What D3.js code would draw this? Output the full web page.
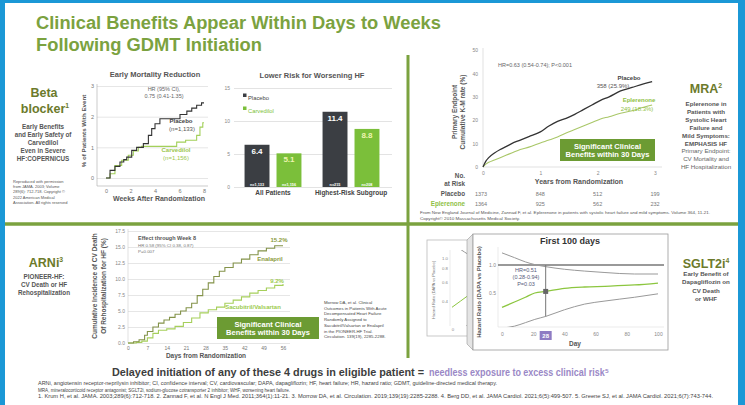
<!DOCTYPE html>
<html>
<head>
<meta charset="utf-8">
<script src="https://cdn.jsdelivr.net/npm/d3@7"></script>
<style>
  body { margin: 0; background: #fff; }
  svg { display: block; font-family: Arial, "Liberation Sans", sans-serif; }
</style>
</head>
<body>
<div id="chart"></div>
<script>
// ---- data ----

// COPERNICUS early mortality, [week, % with event]
const mortPlacebo = [[0,0],[0.33,0.25],[0.73,0.38],[1.14,0.52],[1.45,0.6],[1.69,0.68],[2.1,0.9],[2.5,1.0],[3.05,1.12],[3.46,1.39],[3.73,1.61],[4.0,1.77],[4.4,1.93],[6.04,2.07],[6.6,2.18],[7.0,2.28],[7.4,2.37],[7.8,2.45],[8,2.45]];
const mortCarvedilol = [[0,0],[0.33,0.14],[0.73,0.41],[1.28,0.58],[1.82,0.74],[2.23,0.88],[2.64,1.0],[2.9,1.03],[5.77,1.17],[6.5,1.23],[7.4,1.39],[7.67,1.66],[7.9,1.8],[8,1.8]];
const mortTicksX = [0, 2, 4, 6, 8];
const mortTicksY = [0, 1, 2, 3];

// worsening HF bars
const hfGroups = ["All Patients", "Highest-Risk Subgroup"];
const hfSeries = ["Placebo", "Carvedilol"];
const hfPlacebo = [6.4, 11.4];
const hfCarvedilol = [5.1, 8.8];
const hfPlaceboN = ["n=1,133", "n=215"];
const hfCarvedilolN = ["n=1,156", "n=208"];
const hfTicks = [0, 5, 10, 15];

// EMPHASIS-HF K-M curves
const mraYears = [0, .05, .1, .2, .3, .4, .5, .65, .8, 1.0, 1.15, 1.3, 1.45, 1.6, 1.75, 1.9, 2.05, 2.2, 2.4, 2.6, 2.8, 2.95];
const mraPlacebo = [0, 2.5, 4, 6, 7.5, 8.7, 10, 11.5, 13, 15, 17.5, 19.5, 20.8, 22.5, 24.5, 26.5, 28.5, 30, 32.5, 34, 35.5, 36.5];
const mraEplerenone = [0, 1.2, 2, 3, 4, 5, 6, 7.5, 8.5, 10.3, 11.5, 12.8, 14.5, 16, 17.5, 19, 20.5, 21.5, 23, 24, 25.5, 26.5];
const mraTicksX = [0, 1, 2, 3];
const mraTicksY = [0, 10, 20, 30, 40, 50];
const riskPlacebo = [1373, 848, 512, 199];
const riskEplerenone = [1364, 925, 562, 232];

// PIONEER-HF, [day, %]
const arniEnalapril = [[0,0],[2,0.2],[4,0.5],[6,1.2],[7,1.8],[9,2.5],[11,3.1],[13,3.6],[15,4.0],[17,4.5],[19,5.0],[21,5.5],[23,6.2],[25,7.4],[27,8.4],[29,9.4],[31,10.4],[33,11.2],[35,11.8],[38,12.5],[41,13.1],[44,13.8],[47,14.4],[50,14.8],[53,15.2],[56,15.2]];
const arniSacubitril = [[0,0],[3,0.1],[5,0.3],[7,0.8],[9,1.5],[11,2.0],[14,2.2],[17,2.6],[20,3.2],[23,3.9],[26,4.7],[29,5.2],[32,5.6],[35,6.2],[38,6.7],[41,7.2],[44,7.8],[47,8.2],[50,8.6],[53,9.0],[56,9.2]];
const arniTicksX = [0, 7, 14, 21, 28, 35, 42, 49, 56];
const arniTicksY = [0, 2.5, 5, 7.5, 10, 12.5, 15, 17.5];

// DAPA-HF first 100 days, hazard ratio
const sgltDays = [0, 8, 15, 21, 28, 40, 53, 66, 85, 100];
const sgltHR = [0.35, 0.40, 0.45, 0.50, 0.52, 0.56, 0.58, 0.59, 0.61, 0.64];
const sgltUpper = [1.35, 1.2, 1.08, 1.01, 0.96, 0.9, 0.86, 0.83, 0.80, 0.80];
const sgltLower = [0.21, 0.22, 0.24, 0.26, 0.28, 0.33, 0.38, 0.41, 0.45, 0.49];
const sgltTicksX = [0, 20, 40, 60, 80, 100];
const sgltTicksY = [0.5, 1.0];
const sgltInsetTicksY = [0.4, 0.6, 0.8, 1.0];

// ---- drawing ----
const W = 745, H = 405;
const green = "#7ba23f", olive = "#6c7a2b", boxGreen = "#6c9b33", lime = "#8cc63f", dark = "#3b3e43";

const svg = d3.select("#chart").append("svg").attr("width", W).attr("height", H);

function label(g, x, y, s, size, o = {}) {
  const t = g.append("text").attr("x", x).attr("y", y)
    .attr("font-size", size)
    .attr("fill", o.fill || "#444")
    .attr("font-weight", o.bold ? "bold" : null)
    .attr("text-anchor", o.anchor || "start")
    .text(s);
  if (o.len) t.attr("textLength", o.len).attr("lengthAdjust", "spacingAndGlyphs");
  if (o.rotate) t.attr("transform", `rotate(-90,${x},${y})`);
  return t;
}
function supLabel(g, x, y, s, sup, size, fill) {
  const t = g.append("text").attr("x", x).attr("y", y).attr("font-size", size)
    .attr("font-weight", "bold").attr("fill", fill).attr("text-anchor", "middle");
  t.append("tspan").text(s);
  if (sup) t.append("tspan").attr("font-size", size * 0.55).attr("dy", -size * 0.4).text(sup);
  return t;
}
function block(g, x, y, lines, size, step, o = {}) {
  lines.forEach((s, i) => label(g, x, y + i * step, s, size, Object.assign({anchor: "middle", bold: true, fill: "#555"}, o)));
}
function styleAxis(g, size, color) {
  g.attr("font-size", size).attr("font-family", null);
  g.select(".domain").remove();
  g.selectAll(".tick text").attr("fill", color);
}
function benefitBox(g, x, y, w, h) {
  g.append("rect").attr("x", x).attr("y", y).attr("width", w).attr("height", h).attr("fill", boxGreen);
  label(g, x + w / 2, y + h / 2 - 1.5, "Significant Clinical", 7.5, {anchor: "middle", bold: true, fill: "#fff"});
  label(g, x + w / 2, y + h / 2 + 7, "Benefits within 30 Days", 7.5, {anchor: "middle", bold: true, fill: "#fff"});
}

// frame
svg.append("rect").attr("x", 0).attr("y", 0).attr("width", W).attr("height", 3).attr("fill", "#1b98d6");
svg.append("rect").attr("x", 0).attr("y", 0).attr("width", 5).attr("height", H).attr("fill", "#1b98d6");
svg.append("rect").attr("x", 738).attr("y", 0).attr("width", 7).attr("height", H).attr("fill", "#1b98d6");

// title
label(svg, 36, 29, "Clinical Benefits Appear Within Days to Weeks", 18, {bold: true, fill: green, len: 405});
label(svg, 36, 51, "Following GDMT Initiation", 18, {bold: true, fill: green, len: 226});

// dividers
svg.append("line").attr("x1", 5).attr("x2", 738).attr("y1", 224).attr("y2", 224).attr("stroke", green).attr("stroke-width", 3.5);
svg.append("line").attr("x1", 408).attr("x2", 408).attr("y1", 55).attr("y2", 358).attr("stroke", green).attr("stroke-width", 3);

// ===== Beta blocker =====
const bb = svg.append("g");
supLabel(bb, 44, 97, "Beta", "", 12.5, olive);
supLabel(bb, 45, 113, "blocker", "1", 12.5, olive);
block(bb, 43, 129, ["Early Benefits", "and Early Safety of", "Carvedilol", "Even in Severe", "HF:COPERNICUS"], 6.3, 7.9);
["Reproduced with permission", "from JAMA. 2003; Volume", "289(6): 712-718. Copyright \u00a9", "2022 American Medical", "Association. All rights reserved"]
  .forEach((s, i) => label(bb, 13, 183 + i * 5.2, s, 4, {fill: "#555"}));

// early mortality chart
const emX = d3.scaleLinear().domain([0, 8]).range([106, 204]);
const emY = d3.scaleLinear().domain([0, 3]).range([178, 86]);
label(bb, 155, 77, "Early Mortality Reduction", 7.5, {anchor: "middle", bold: true, fill: "#555"});
bb.append("g").attr("transform", "translate(97,0)")
  .call(d3.axisLeft(emY).tickValues(mortTicksY).tickFormat(d3.format("d")).tickSize(-111).tickPadding(3))
  .call(g => styleAxis(g, 5.5, "#777"))
  .call(g => g.selectAll(".tick line").attr("stroke", "#e6e6e6"));
bb.append("g").attr("transform", "translate(0,186)")
  .call(d3.axisBottom(emX).tickValues(mortTicksX).tickFormat(d3.format("d")).tickSize(0).tickPadding(3))
  .call(g => styleAxis(g, 5.5, "#777"));
bb.append("line").attr("x1", 97).attr("x2", 97).attr("y1", 84).attr("y2", 186).attr("stroke", "#aaa").attr("stroke-width", 0.6);
bb.append("line").attr("x1", 97).attr("x2", 208).attr("y1", 186).attr("y2", 186).attr("stroke", "#aaa").attr("stroke-width", 0.6);
const stepLine = (xs, ys) => d3.line().curve(d3.curveStepAfter).x(d => xs(d[0])).y(d => ys(d[1]));
bb.append("path").datum(mortCarvedilol).attr("d", stepLine(emX, emY)).attr("fill", "none").attr("stroke", "#a3d05a").attr("stroke-width", 1.1);
bb.append("path").datum(mortPlacebo).attr("d", stepLine(emX, emY)).attr("fill", "none").attr("stroke", "#333").attr("stroke-width", 1.1);
label(bb, 164, 91, "HR (95% CI),", 5.5, {anchor: "middle", fill: "#666"});
label(bb, 164, 98, "0.75 (0.41-1.35)", 5.5, {anchor: "middle", fill: "#666"});
label(bb, 181, 123, "Placebo", 6, {anchor: "middle", bold: true, fill: "#444"});
label(bb, 182, 131, "(n=1,133)", 6, {anchor: "middle", fill: "#555"});
label(bb, 176, 152, "Carvedilol", 6, {anchor: "middle", bold: true, fill: "#9bc64c"});
label(bb, 176, 160, "(n=1,156)", 6, {anchor: "middle", fill: "#9bc64c"});
label(bb, 86, 131, "% of Patients With Event", 6.2, {anchor: "middle", bold: true, fill: "#555", rotate: true});
label(bb, 159, 201, "Weeks After Randomization", 7, {anchor: "middle", bold: true, fill: "#555"});

// worsening HF bar chart
const bx0 = d3.scaleBand().domain(hfGroups).range([234, 390]);
const bx1 = d3.scaleBand().domain(hfSeries).range([0, bx0.bandwidth()]).paddingInner(0.22).paddingOuter(0.33);
const by = d3.scaleLinear().domain([0, 15]).range([187, 88]);
label(bb, 312, 78, "Lower Risk for Worsening HF", 7.5, {anchor: "middle", bold: true, fill: "#555"});
bb.append("g").attr("transform", "translate(234,0)")
  .call(d3.axisLeft(by).tickValues(hfTicks).tickSize(-158).tickPadding(4))
  .call(g => styleAxis(g, 5, "#888"))
  .call(g => g.selectAll(".tick line").attr("stroke", "#e3e3e3"));
const barRows = hfGroups.flatMap((grp, i) => [
  {grp, s: "Placebo", v: hfPlacebo[i], n: hfPlaceboN[i], fill: dark, tc: "#fff"},
  {grp, s: "Carvedilol", v: hfCarvedilol[i], n: hfCarvedilolN[i], fill: "#7bbf3a", tc: "#eef5b0"}
]);
const bars = bb.selectAll("g.bar").data(barRows).join("g").attr("class", "bar")
  .attr("transform", d => `translate(${bx0(d.grp) + bx1(d.s)},0)`);
bars.append("rect").attr("y", d => by(d.v)).attr("width", bx1.bandwidth()).attr("height", d => by(0) - by(d.v)).attr("fill", d => d.fill);
bars.append("text").attr("x", bx1.bandwidth() / 2).attr("y", d => by(d.v) + 9).attr("text-anchor", "middle")
  .attr("font-size", 8).attr("font-weight", "bold").attr("fill", d => d.tc).text(d => d.v.toFixed(1));
bars.append("text").attr("x", bx1.bandwidth() / 2).attr("y", by(0) - 1.5).attr("text-anchor", "middle")
  .attr("font-size", 3.8).attr("font-weight", "bold").attr("fill", "#fff").text(d => d.n);
bb.append("g").attr("transform", "translate(0,188)")
  .call(d3.axisBottom(bx0).tickSize(0).tickPadding(2))
  .call(g => styleAxis(g, 6.5, "#444"))
  .call(g => g.selectAll(".tick text").attr("font-weight", "bold"));
hfSeries.forEach((s, i) => {
  bb.append("rect").attr("x", 243).attr("y", 97 + i * 13 - 3.5).attr("width", 3.5).attr("height", 3.5).attr("fill", i ? "#7bbf3a" : dark);
  label(bb, 248, 100 + i * 13, s, 5.8, {fill: i ? "#7bbf3a" : "#444"});
});

// ===== MRA =====
const mr = svg.append("g");
const mx = d3.scaleLinear().domain([0, 3]).range([483, 655]);
const my = d3.scaleLinear().domain([0, 50]).range([167, 50]);
mr.append("g").attr("transform", "translate(480,0)")
  .call(d3.axisLeft(my).tickValues(mraTicksY).tickFormat(d3.format("d")).tickSize(0).tickPadding(2))
  .call(g => styleAxis(g, 5, "#888"));
mr.append("g").attr("transform", "translate(0,170)")
  .call(d3.axisBottom(mx).tickValues(mraTicksX).tickFormat(d3.format("d")).tickSize(0).tickPadding(1))
  .call(g => styleAxis(g, 5, "#888"));
mr.append("line").attr("x1", 483).attr("x2", 483).attr("y1", 48).attr("y2", 167).attr("stroke", "#ccc").attr("stroke-width", 0.6);
mr.append("line").attr("x1", 483).attr("x2", 662).attr("y1", 167).attr("y2", 167).attr("stroke", "#ccc").attr("stroke-width", 0.6);
const kmLine = d3.line().curve(d3.curveMonotoneX).x((d, i) => mx(mraYears[i])).y(d => my(d));
mr.append("path").datum(mraEplerenone).attr("d", kmLine).attr("fill", "none").attr("stroke", "#a9c768").attr("stroke-width", 1.1);
mr.append("path").datum(mraPlacebo).attr("d", kmLine).attr("fill", "none").attr("stroke", "#333").attr("stroke-width", 1.3);
label(mr, 498, 67, "HR=0.63 (0.54-0.74); P<0.001", 5.5, {fill: "#666"});
label(mr, 629, 80, "Placebo", 6, {anchor: "middle", bold: true, fill: "#444"});
label(mr, 613, 88, "358 (25.9%)", 6, {anchor: "middle", fill: "#555"});
label(mr, 639, 102, "Eplerenone", 6, {anchor: "middle", bold: true, fill: "#8fbf45"});
label(mr, 637, 111, "249 (18.3%)", 6, {anchor: "middle", fill: "#8fbf45"});
label(mr, 457, 112, "Primary Endpoint", 6.5, {anchor: "middle", bold: true, fill: "#555", rotate: true});
label(mr, 465, 112, "Cumulative K-M rate (%)", 6.5, {anchor: "middle", bold: true, fill: "#555", rotate: true});
benefitBox(mr, 560, 139, 95, 22);
label(mr, 579, 184, "Years from Randomization", 7, {anchor: "middle", bold: true, fill: "#555"});
label(mr, 465, 178, "No.", 6.3, {anchor: "end", bold: true, fill: "#555"});
label(mr, 465, 186, "at Risk", 6.3, {anchor: "end", bold: true, fill: "#555"});
label(mr, 465, 196, "Placebo", 6.3, {anchor: "end", bold: true, fill: "#555"});
label(mr, 465, 206, "Eplerenone", 6.3, {anchor: "end", bold: true, fill: "#8fbf45"});
riskPlacebo.forEach((v, i) => label(mr, mx(mraTicksX[i]) - (i ? 0 : 2), 196, v, 5.5, {anchor: "middle", fill: "#777"}));
riskEplerenone.forEach((v, i) => label(mr, mx(mraTicksX[i]) - (i ? 0 : 2), 206, v, 5.5, {anchor: "middle", fill: "#777"}));
label(mr, 420, 214, "From New England Journal of Medicine, Zannad F, et al. Eplerenone in patients with systolic heart failure and mild symptoms. Volume 364, 11-21.", 3.9, {fill: "#555", len: 290});
label(mr, 420, 219.5, "Copyright\u00a9 2010 Massachusetts Medical Society.", 3.9, {fill: "#555", len: 100});
supLabel(mr, 706, 93, "MRA", "2", 12.5, olive);
block(mr, 706, 106, ["Eplerenone in", "Patients with", "Systolic Heart", "Failure and", "Mild Symptoms:", "EMPHASIS HF"], 6.2, 7.9);
block(mr, 706, 153.4, ["Primary Endpoint:", "CV Mortality and", "HF Hospitalization"], 6.2, 7.9, {bold: false, fill: "#666"});

// ===== ARNI =====
const ar = svg.append("g");
const ax = d3.scaleLinear().domain([0, 56]).range([128, 283]);
const ay = d3.scaleLinear().domain([0, 17.5]).range([343, 231]);
ar.append("g").attr("transform", "translate(128,0)")
  .call(d3.axisLeft(ay).tickValues(arniTicksY).tickFormat(d3.format(".1f")).tickSize(-162).tickPadding(3))
  .call(g => styleAxis(g, 5, "#888"))
  .call(g => g.selectAll(".tick line").attr("stroke", "#e6e6e6"));
ar.append("g").attr("transform", "translate(0,344)")
  .call(d3.axisBottom(ax).tickValues(arniTicksX).tickFormat(d3.format("d")).tickSize(0).tickPadding(2))
  .call(g => styleAxis(g, 5, "#777"));
ar.append("line").attr("x1", 128).attr("x2", 128).attr("y1", 229).attr("y2", 343).attr("stroke", "#ccc").attr("stroke-width", 0.6);
ar.append("path").datum(arniSacubitril).attr("d", stepLine(ax, ay)).attr("fill", "none").attr("stroke", "#a6cf5b").attr("stroke-width", 1.1);
ar.append("path").datum(arniEnalapril).attr("d", stepLine(ax, ay)).attr("fill", "none").attr("stroke", "#84934a").attr("stroke-width", 1.1);
label(ar, 138, 240, "Effect through Week 8", 5.5, {bold: true, fill: "#555"});
label(ar, 138, 247, "HR 0.58 (95% CI 0.38, 0.87)", 4.4, {fill: "#777"});
label(ar, 138, 253, "P=0.007", 4.4, {fill: "#777"});
label(ar, 279, 242, "15.2%", 6, {anchor: "middle", bold: true, fill: "#8a9a3c"});
label(ar, 270, 261, "Enalapril", 6, {anchor: "middle", bold: true, fill: "#8a9a3c"});
label(ar, 277, 283, "9.2%", 6, {anchor: "middle", bold: true, fill: "#9ccb4c"});
label(ar, 253, 309, "Sacubitril/Valsartan", 6, {anchor: "middle", bold: true, fill: "#9ccb4c"});
benefitBox(ar, 217, 317, 102, 22);
label(ar, 97, 286, "Cumulative Incidence of CV Death", 6.5, {anchor: "middle", bold: true, fill: "#555", rotate: true});
label(ar, 106, 286, "Of Rehospitalization for HF (%)", 6.5, {anchor: "middle", bold: true, fill: "#555", rotate: true});
label(ar, 206, 358, "Days from Randomization", 6.5, {anchor: "middle", bold: true, fill: "#555"});
["Morrow DA, et al. Clinical", "Outcomes in Patients With Acute", "Decompensated Heart Failure", "Randomly Assigned to",
 "Sacubitril/Valsartan or Enalapril", "in the PIONEER-HF Trial.", "Circulation. 139(19), 2285-2288."]
  .forEach((s, i) => label(ar, 324, 304 + i * 5.7, s, 4.3, {fill: "#444"}));
supLabel(ar, 46, 267, "ARNi", "3", 12.5, olive);
block(ar, 44, 279, ["PIONEER-HF:", "CV Death or HF", "Rehospitalization"], 6.3, 8);

// ===== SGLT2i =====
const sg = svg.append("g");
const defs = svg.append("defs");
defs.append("clipPath").attr("id", "clipInset").append("rect").attr("x", 450).attr("y", 250).attr("width", 22).attr("height", 76);
defs.append("clipPath").attr("id", "clipFront").append("rect").attr("x", 498).attr("y", 247).attr("width", 166).attr("height", 80);

// back inset panel
sg.append("rect").attr("x", 427).attr("y", 240).attr("width", 180).attr("height", 96).attr("fill", "#fff").attr("stroke", "#bbb").attr("stroke-width", 0.8);
const ix = d3.scaleLinear().domain([0, 100]).range([452, 560]);
const iy = d3.scaleLog().domain([0.4, 1]).range([301, 258]);
sg.append("g").attr("transform", "translate(449,0)")
  .call(d3.axisLeft(iy).tickValues(sgltInsetTicksY).tickFormat(d3.format(".1f")).tickSize(0).tickPadding(1))
  .call(g => styleAxis(g, 4.3, "#888"));
label(sg, 453, 331, "0", 4.3, {anchor: "middle", fill: "#888"});
label(sg, 435, 290, "Hazard Ratio (DAPA vs Placebo)", 4, {anchor: "middle", fill: "#777", rotate: true});
sg.append("line").attr("x1", 450).attr("x2", 450).attr("y1", 250).attr("y2", 326).attr("stroke", "#ddd").attr("stroke-width", 0.6);
const hrLine = (xs, ys) => d3.line().curve(d3.curveMonotoneX).x((d, i) => xs(sgltDays[i])).y(d => ys(d));
const inset = sg.append("g").attr("clip-path", "url(#clipInset)");
[[sgltUpper, "#999"], [sgltLower, "#999"], [sgltHR, lime]].forEach(([arr, c]) =>
  inset.append("path").datum(arr).attr("d", hrLine(ix, iy)).attr("fill", "none").attr("stroke", c).attr("stroke-width", 1));

// front panel with left bevel
sg.append("path").attr("d", "M467,240 L473,234 L473,350 L467,344 Z").attr("fill", "#e4e4e4").attr("stroke", "#999").attr("stroke-width", 0.6);
sg.append("rect").attr("x", 473).attr("y", 234).attr("width", 195).attr("height", 116).attr("fill", "#fff").attr("stroke", "#999").attr("stroke-width", 0.8);
label(sg, 570, 244, "First 100 days", 9, {anchor: "middle", bold: true, fill: "#333"});
const fx = d3.scaleLinear().domain([0, 100]).range([502, 658]);
const fy = d3.scaleLog().domain([0.5, 1]).range([293, 265]);
sg.append("line").attr("x1", 498).attr("x2", 498).attr("y1", 247).attr("y2", 327).attr("stroke", "#ddd").attr("stroke-width", 0.6);
sg.append("line").attr("x1", 498).attr("x2", 664).attr("y1", 327).attr("y2", 327).attr("stroke", "#ddd").attr("stroke-width", 0.6);
sg.append("g").attr("transform", "translate(497,0)")
  .call(d3.axisLeft(fy).tickValues(sgltTicksY).tickFormat(d3.format(".1f")).tickSize(0).tickPadding(1))
  .call(g => styleAxis(g, 5, "#888"));
sg.append("g").attr("transform", "translate(0,332)")
  .call(d3.axisBottom(fx).tickValues(sgltTicksX).tickFormat(d3.format("d")).tickSize(0).tickPadding(0))
  .call(g => styleAxis(g, 5, "#888"));
const front = sg.append("g").attr("clip-path", "url(#clipFront)");
front.append("line").attr("x1", 495).attr("x2", 664).attr("y1", fy(1)).attr("y2", fy(1)).attr("stroke", "#777").attr("stroke-width", 1.5);
[[sgltUpper, "#999"], [sgltLower, "#999"], [sgltHR, lime]].forEach(([arr, c]) =>
  front.append("path").datum(arr).attr("d", hrLine(fx, fy)).attr("fill", "none").attr("stroke", c).attr("stroke-width", c === lime ? 1.3 : 1));
const d28 = sgltDays.indexOf(28);
front.append("line").attr("x1", fx(28)).attr("x2", fx(28)).attr("y1", fy(1)).attr("y2", fy(sgltLower[d28])).attr("stroke", "#777").attr("stroke-width", 1);
front.append("rect").attr("x", fx(28) - 2.5).attr("y", fy(sgltHR[d28]) - 2.5).attr("width", 5).attr("height", 5).attr("fill", "#666");
sg.append("rect").attr("x", fx(28) - 6).attr("y", 331).attr("width", 12).attr("height", 9).attr("fill", "#8e7cc3");
label(sg, fx(28), 338, "28", 6, {anchor: "middle", bold: true, fill: "#fff"});
label(sg, 526, 272, "HR=0.51", 5.5, {anchor: "middle", fill: "#555a7a"});
label(sg, 526, 279, "(0.28-0.94)", 5.5, {anchor: "middle", fill: "#555a7a"});
label(sg, 526, 286, "P=0.03", 5.5, {anchor: "middle", fill: "#555a7a"});
label(sg, 481, 292, "Hazard Ratio (DAPA vs Placebo)", 6, {anchor: "middle", bold: true, fill: "#555", rotate: true});
label(sg, 575, 346, "Day", 6.5, {anchor: "middle", bold: true, fill: "#555"});
supLabel(sg, 706, 268, "SGLT2i", "4", 12.5, olive);
block(sg, 706, 276, ["Early Benefit of", "Dapagliflozin on", "CV Death", "or WHF"], 6.2, 8.3);

// ===== bottom message and footnotes =====
label(svg, 112, 376, "Delayed initiation of any of these 4 drugs in eligible patient =", 10.5, {bold: true, fill: "#3d3d3d", len: 312});
label(svg, 429, 376, "needless exposure to excess clinical risk\u2075", 10.5, {bold: true, fill: "#9a88c6", len: 180});
label(svg, 38, 385, "ARNi, angiotensin receptor-neprilysin inhibitor; CI, confidence interval; CV, cardiovascular; DAPA, dapagliflozin; HF, heart failure; HR, hazard ratio; GDMT, guideline-directed medical therapy.", 4.6, {fill: "#444", len: 459});
label(svg, 38, 391.5, "MRA, mineralocorticoid receptor antagonist; SGLT2i, sodium-glucose cotransporter 2 inhibitor; WHF, worsening heart failure.", 4.6, {fill: "#444", len: 252});
label(svg, 38, 398, "1. Krum H, et al. JAMA. 2003;289(6):712-718. 2. Zannad F, et al. N Engl J Med. 2011;364(1):11-21. 3. Morrow DA, et al. Circulation. 2019;139(19):2285-2288. 4. Berg DD, et al. JAMA Cardiol. 2021;6(5):499-507. 5. Greene SJ, et al. JAMA Cardiol. 2021;6(7):743-744.", 4.6, {fill: "#444", len: 675});
</script>
</body>
</html>
